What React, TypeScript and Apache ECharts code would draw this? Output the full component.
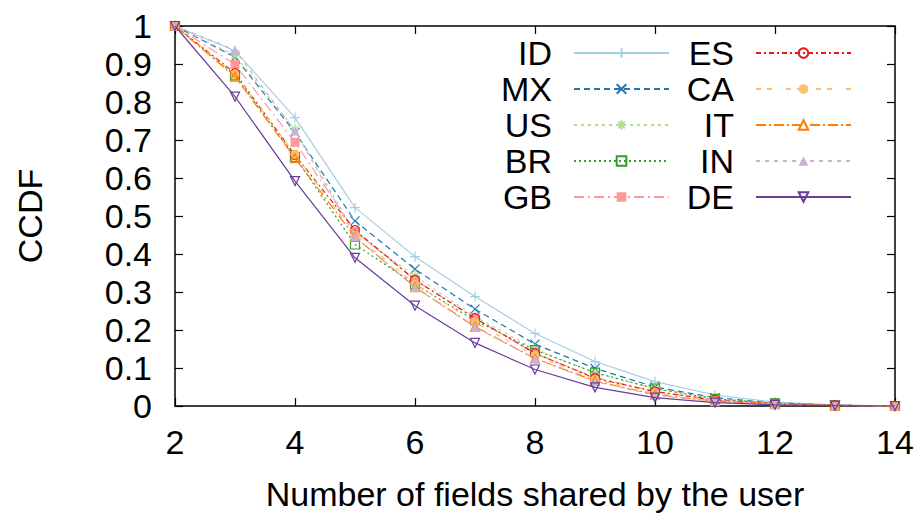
import React, { useEffect, useRef } from "react";
import * as echarts from "echarts";

const xValues = [2, 3, 4, 5, 6, 7, 8, 9, 10, 11, 12, 13, 14];
const seriesNames = ["ID", "MX", "US", "BR", "GB", "ES", "CA", "IT", "IN", "DE"];
const ID = [1, 0.935, 0.759, 0.522, 0.393, 0.288, 0.191, 0.117, 0.064, 0.029, 0.01, 0.003, 0];
const MX = [1, 0.918, 0.72, 0.487, 0.36, 0.255, 0.163, 0.099, 0.05, 0.022, 0.008, 0.002, 0];
const US = [1, 0.923, 0.728, 0.455, 0.342, 0.235, 0.15, 0.087, 0.045, 0.019, 0.007, 0.002, 0];
const BR = [1, 0.87, 0.655, 0.425, 0.32, 0.225, 0.147, 0.088, 0.046, 0.019, 0.007, 0.002, 0];
const GB = [1, 0.899, 0.694, 0.46, 0.332, 0.231, 0.138, 0.075, 0.038, 0.016, 0.006, 0.002, 0];
const ES = [1, 0.876, 0.66, 0.463, 0.332, 0.231, 0.139, 0.073, 0.038, 0.016, 0.006, 0.002, 0];
const CA = [1, 0.873, 0.662, 0.45, 0.322, 0.22, 0.132, 0.07, 0.034, 0.014, 0.005, 0.001, 0];
const IT = [1, 0.867, 0.652, 0.445, 0.313, 0.209, 0.125, 0.066, 0.03, 0.013, 0.005, 0.001, 0];
const IN = [1, 0.937, 0.724, 0.446, 0.312, 0.207, 0.125, 0.064, 0.029, 0.012, 0.004, 0.001, 0];
const DE = [1, 0.814, 0.592, 0.39, 0.264, 0.166, 0.096, 0.049, 0.022, 0.009, 0.003, 0.001, 0];
const yTicks = [0, 0.1, 0.2, 0.3, 0.4, 0.5, 0.6, 0.7, 0.8, 0.9, 1];

const allData = [ID, MX, US, BR, GB, ES, CA, IT, IN, DE];

const FONT = "Liberation Sans, Arial, Helvetica, sans-serif";
const FS = 34;

type Style = {
  color: string;
  dash: number[] | "solid";
  symbol: string;
  hollow: boolean;
  rotate?: number;
  size?: number;
};

const styles: Style[] = [
  { color: "#a6cee3", dash: "solid", symbol: "path://M5,0L5,10M0,5L10,5", hollow: true, size: 10 },
  { color: "#1f78b4", dash: [6, 4], symbol: "path://M0,0L10,10M10,0L0,10", hollow: true, size: 9 },
  { color: "#b2df8a", dash: [3, 4], symbol: "path://M5,0L5,10M0,5L10,5M1.5,1.5L8.5,8.5M8.5,1.5L1.5,8.5", hollow: true, size: 10 },
  { color: "#33a02c", dash: [2, 3], symbol: "path://M0,0L10,0L10,10L0,10Z", hollow: true, size: 9 },
  { color: "#fb9a99", dash: [10, 4, 2, 4], symbol: "rect", hollow: false, size: 9 },
  { color: "#e31a1c", dash: [5, 3, 2, 3], symbol: "circle", hollow: true, size: 9 },
  { color: "#fdbf6f", dash: [5, 6, 5, 14], symbol: "circle", hollow: false, size: 9 },
  { color: "#ff7f00", dash: [10, 3, 2, 3], symbol: "triangle", hollow: true, size: 9 },
  { color: "#cab2d6", dash: [4, 5], symbol: "triangle", hollow: false, size: 9 },
  { color: "#6a3d9a", dash: "solid", symbol: "triangle", hollow: true, rotate: 180, size: 9 },
];

export default function App() {
  const ref = useRef<HTMLDivElement>(null);
  useEffect(() => {
    if (!ref.current) return;
    const chart = echarts.init(ref.current, undefined, { renderer: "svg" });
    const series = seriesNames.map((name, i) => {
      const s = styles[i];
      return {
        name,
        type: "line",
        xAxisIndex: 0,
        yAxisIndex: 0,
        data: xValues.map((x, j) => [x, allData[i][j]]),
        symbol: s.symbol,
        symbolSize: s.size,
        symbolRotate: s.rotate || 0,
        showSymbol: true,
        color: s.color,
        lineStyle: { color: s.color, width: 1.2, type: s.dash },
        itemStyle: s.hollow
          ? { color: "rgba(255,255,255,0)", borderColor: s.color, borderWidth: 1.2 }
          : { color: s.color, borderWidth: 0 },
        emphasis: { disabled: true },
        z: 2 + i,
      };
    });
    const legendCommon = {
      orient: "vertical",
      align: "right",
      top: 35,
      padding: 0,
      itemGap: 0,
      itemWidth: 95,
      itemHeight: 12,
      selectedMode: false,
      textStyle: {
        fontFamily: FONT,
        fontSize: FS,
        color: "#000",
        lineHeight: 36,
        padding: [0, 17, 0, 0],
      },
    };
    chart.setOption({
      animation: false,
      backgroundColor: "#fff",
      textStyle: { fontFamily: FONT },
      grid: {
        left: 175,
        top: 26,
        right: 27,
        bottom: 107,
        containLabel: false,
        outerBoundsMode: "none",
      },
      legend: [
        { ...legendCommon, right: 252, data: seriesNames.slice(0, 5) },
        { ...legendCommon, right: 70, data: seriesNames.slice(5) },
      ],
      xAxis: [
        {
          type: "value",
          min: 2,
          max: 14,
          interval: 2,
          name: "Number of fields shared by the user",
          nameLocation: "middle",
          nameGap: 71,
          nameTextStyle: { fontFamily: FONT, fontSize: FS, color: "#000" },
          axisLine: { show: true, onZero: false, lineStyle: { color: "#000", width: 1.5 } },
          axisTick: { show: true, inside: true, length: 8, lineStyle: { color: "#000", width: 1.2 } },
          axisLabel: { fontFamily: FONT, fontSize: FS, color: "#000", margin: 19 },
          splitLine: { show: false },
        },
        {
          type: "value",
          position: "top",
          min: 2,
          max: 14,
          interval: 2,
          axisLine: { show: true, onZero: false, lineStyle: { color: "#000", width: 1.5 } },
          axisTick: { show: true, inside: true, length: 8, lineStyle: { color: "#000", width: 1.2 } },
          axisLabel: { show: false },
          splitLine: { show: false },
        },
      ],
      yAxis: [
        {
          type: "value",
          min: 0,
          max: 1,
          interval: 0.1,
          name: "CCDF",
          nameLocation: "middle",
          nameGap: 128,
          nameTextStyle: { fontFamily: FONT, fontSize: FS, color: "#000" },
          axisLine: { show: true, onZero: false, lineStyle: { color: "#000", width: 1.5 } },
          axisTick: { show: true, inside: true, length: 8, lineStyle: { color: "#000", width: 1.2 } },
          axisLabel: {
            fontFamily: FONT,
            fontSize: FS,
            color: "#000",
            margin: 23,
            formatter: (v: number) => {
              const t = yTicks.find((k) => Math.abs(k - v) < 1e-9);
              return t === undefined ? "" : String(t);
            },
          },
          splitLine: { show: false },
        },
        {
          type: "value",
          position: "right",
          min: 0,
          max: 1,
          interval: 0.1,
          axisLine: { show: true, onZero: false, lineStyle: { color: "#000", width: 1.5 } },
          axisTick: { show: true, inside: true, length: 8, lineStyle: { color: "#000", width: 1.2 } },
          axisLabel: { show: false },
          splitLine: { show: false },
        },
      ],
      series,
    });
    return () => chart.dispose();
  }, []);
  return <div ref={ref} style={{ width: 922, height: 513, position: "absolute", left: 0, top: 0 }} />;
}
